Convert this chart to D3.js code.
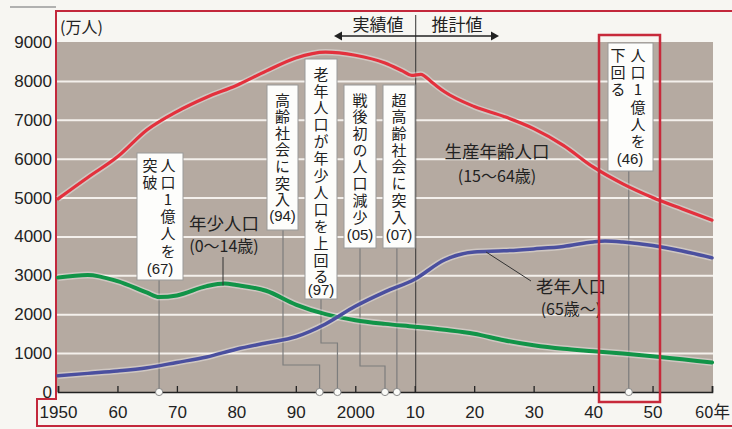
<!DOCTYPE html>
<html><head><meta charset="utf-8">
<script src="https://cdn.jsdelivr.net/npm/d3@7"></script>
<style>
html,body{margin:0;padding:0;background:#f7f6f2;}
svg{display:block;}
.vt{writing-mode:vertical-rl;text-orientation:upright;}
</style></head>
<body>
<svg id="c" width="732" height="429"></svg>
<script>
// ---------- data ----------
const redYears   = [1950,1955,1960,1965,1970,1975,1980,1985,1990,1995,2000,2005,2008,2009.5,2011,2013,2015,2020,2025,2030,2035,2040,2045,2050,2055,2060];
const redValues  = [4966,5517,6047,6744,7212,7581,7883,8251,8590,8740,8660,8460,8250,8140,8170,7950,7720,7341,7085,6773,6343,5787,5353,5001,4706,4418];
const greenYears  = [1950,1955,1960,1965,1967,1970,1975,1978,1980,1985,1990,1995,2000,2005,2010,2015,2020,2025,2030,2035,2040,2045,2050,2055,2060];
const greenValues = [2943,3010,2850,2553,2440,2482,2722,2790,2751,2603,2249,2001,1847,1752,1680,1600,1500,1330,1200,1110,1050,990,920,840,760];
const blueYears  = [1950,1955,1960,1965,1970,1975,1980,1985,1990,1995,2000,2005,2010,2015,2020,2025,2030,2035,2040,2042,2045,2050,2055,2060];
const blueValues = [416,479,540,624,760,900,1100,1260,1420,1750,2204,2576,2900,3395,3600,3630,3680,3741,3860,3880,3856,3768,3626,3450];
const yTicks = [0,1000,2000,3000,4000,5000,6000,7000,8000,9000];
const yTickLabels = ["0","1000","2000","3000","4000","5000","6000","7000","8000","9000"];
const xTicks = [1950,1960,1970,1980,1990,2000,2010,2020,2030,2040,2050,2060];
const xTickLabels = ["1950","60","70","80","90","2000","10","20","30","40","50","60年"];
const seriesNames = ["生産年齢人口","年少人口","老年人口"];
const seriesAges = ["(15〜64歳)","(0〜14歳)","(65歳〜)"];
const annYears = [1967,1994,1997,2005,2007,2046];
const annTexts = [["人口1億人を","突破"],["高齢社会に突入"],["老年人口が年少人口を上回る"],["戦後初の人口減少"],["超高齢社会に突入"],["人口1億人を","下回る"]];
const annLabels = ["(67)","(94)","(97)","(05)","(07)","(46)"];

// ---------- layout ----------
const svg = d3.select("#c");
const X0 = 58, X1 = 712, Y0 = 392, Y1 = 42;
const x = d3.scaleLinear().domain([1950,2060]).range([X0,X1]);
const y = d3.scaleLinear().domain([0,9000]).range([Y0,Y1]);
const JP = "'Noto Sans CJK JP','Noto Sans',sans-serif";
const NUM = "'Liberation Sans',Arial,sans-serif";

// frame lines
svg.append("line").attr("x1",10).attr("x2",56).attr("y1",7).attr("y2",7).attr("stroke","#9a9a9a").attr("stroke-width",1.5);
svg.append("path").attr("d","M732,11 H56 V399 H37 V426 H732").attr("fill","none").attr("stroke","#c3283c").attr("stroke-width",2);

// plot background
svg.append("rect").attr("x",X0-1).attr("y",Y1).attr("width",713-(X0-1)).attr("height",Y0-Y1).attr("fill","#b5aaa1");

// grid
const grid = svg.append("g").attr("transform",`translate(${X0-1},0)`)
  .call(d3.axisLeft(y).tickValues(yTicks.filter(v=>v>0 && v<9000)).tickSize(-(713-(X0-1))).tickFormat(""));
grid.select(".domain").remove();
grid.selectAll("line").attr("stroke","#f4f0ec").attr("stroke-width",2);

// y labels
const yAx = svg.append("g").attr("transform","translate(56,0)")
  .call(d3.axisLeft(y).tickValues(yTicks).tickSize(0).tickPadding(4).tickFormat((d,i)=>yTickLabels[i]));
yAx.select(".domain").remove();
yAx.selectAll("text").attr("font-family",NUM).attr("font-size",17).attr("fill","#222");

svg.append("text").attr("x",60).attr("y",33).text("(万人)").attr("font-family",JP).attr("font-size",16).attr("fill","#222");

// actual / projection header
svg.append("line").attr("x1",x(2010)+1).attr("x2",x(2010)+1).attr("y1",15).attr("y2",Y0).attr("stroke","#333").attr("stroke-width",1);
svg.append("line").attr("x1",340).attr("x2",493).attr("y1",36).attr("y2",36).attr("stroke","#222").attr("stroke-width",1.5);
svg.append("path").attr("d","M334,36 l8,-4.5 v9 z").attr("fill","#222");
svg.append("path").attr("d","M499,36 l-8,-4.5 v9 z").attr("fill","#222");
svg.append("text").attr("x",378).attr("y",31).attr("text-anchor","middle").text("実績値").attr("font-family",JP).attr("font-size",17).attr("fill","#222");
svg.append("text").attr("x",457).attr("y",31).attr("text-anchor","middle").text("推計値").attr("font-family",JP).attr("font-size",17).attr("fill","#222");

// lines
const lineGen = d3.line().x(d=>x(d[0])).y(d=>y(d[1])).curve(d3.curveMonotoneX);
const series = [
  {yrs:redYears, vals:redValues, color:"#e3313d", w:3.2},
  {yrs:greenYears, vals:greenValues, color:"#119448", w:4},
  {yrs:blueYears, vals:blueValues, color:"#4a4f9f", w:3.5}
];

// annotations (leaders first)
const boxes = [
  {x:137,y:153,w:46,h:127, cols:[168,150], start:165, step:17.2, ly:268, lx:160},
  {x:267,y:85,w:31,h:145, cols:[282.5], start:100, step:16.6, ly:215, lx:282.5},
  {x:305,y:59,w:32,h:240, cols:[321], start:74, step:16.9, ly:289, lx:321},
  {x:344,y:85,w:32,h:163, cols:[360], start:100, step:16.7, ly:234, lx:360},
  {x:383,y:85,w:32,h:163, cols:[399], start:100, step:16.7, ly:234, lx:399},
  {x:608,y:43,w:45,h:128, cols:[638,618], start:55, step:17.3, ly:158, lx:630}
];
const leaders = [
  [[x(1967),280],[x(1967),Y0]],
  [[283,230],[283,365],[x(1994),365],[x(1994),Y0]],
  [[321,299],[321,343],[x(1997),343],[x(1997),Y0]],
  [[360,248],[360,366],[x(2005),366],[x(2005),Y0]],
  [[x(2007),248],[x(2007),Y0]],
  [[x(2046),171],[x(2046),Y0]]
];
svg.append("g").selectAll("path").data(leaders).join("path")
  .attr("d",d=>d3.line()(d)).attr("fill","none").attr("stroke","#7d7d7d").attr("stroke-width",1.2);

// series lines
series.forEach(s=>{
  const pts = s.yrs.map((yr,i)=>[yr,s.vals[i]]);
  svg.append("path").datum(pts).attr("d",lineGen).attr("fill","none")
    .attr("stroke","rgba(255,255,255,0.35)").attr("stroke-width",s.w+3).attr("stroke-linejoin","round");
  svg.append("path").datum(pts).attr("d",lineGen).attr("fill","none")
    .attr("stroke",s.color).attr("stroke-width",s.w).attr("stroke-linejoin","round").attr("stroke-linecap","round");
});

// x axis
const xAx = svg.append("g").attr("transform",`translate(0,${Y0})`)
  .call(d3.axisBottom(x).tickValues(xTicks).tickSize(-6).tickPadding(14).tickFormat((d,i)=>xTickLabels[i]));
xAx.select(".domain").attr("stroke","#222").attr("stroke-width",1.6);
xAx.selectAll("line").attr("stroke","#222").attr("stroke-width",1.3);
xAx.selectAll("text").attr("font-family",NUM).attr("font-size",17).attr("fill","#222");
xAx.selectAll("text").filter((d,i)=>i===11).attr("font-family",JP).attr("font-size",16.5);

// circles at axis
svg.append("g").selectAll("circle").data(annYears).join("circle")
  .attr("cx",d=>x(d)).attr("cy",Y0).attr("r",3.6).attr("fill","#fbfbf8").attr("stroke","#8a8a8a").attr("stroke-width",1);

// boxes with vertical text
const FS = 15;
annYears.forEach((yr,i)=>{
  const b = boxes[i];
  const g = svg.append("g");
  g.append("rect").attr("x",b.x).attr("y",b.y).attr("width",b.w).attr("height",b.h)
    .attr("fill","#fdfdfb").attr("stroke","#9a9a9a").attr("stroke-width",1);
  annTexts[i].forEach((col,ci)=>{
    g.append("text").attr("class","vt")
      .attr("x",b.cols[ci]).attr("y",b.start-FS/2)
      .style("letter-spacing",(b.step-FS)+"px")
      .attr("font-family",JP).attr("font-size",FS).attr("fill","#222")
      .text(col);
  });
  g.append("text").attr("x",b.lx).attr("y",b.ly).attr("text-anchor","middle").attr("dominant-baseline","central")
    .attr("font-family",NUM).attr("font-size",15).attr("fill","#222").text(annLabels[i]);
});

// series labels
const labPos = [[497,150,175],[224,222,245],[571,285,308]];
seriesNames.forEach((n,i)=>{
  const p = labPos[i];
  svg.append("text").attr("x",p[0]).attr("y",p[1]).attr("text-anchor","middle").attr("dominant-baseline","central")
    .attr("font-family",JP).attr("font-size",17.5).attr("fill","#222").text(n);
  svg.append("text").attr("x",p[0]).attr("y",p[2]).attr("text-anchor","middle").attr("dominant-baseline","central")
    .attr("font-family",JP).attr("font-size",16).attr("fill","#222").text(seriesAges[i]);
});
// label leaders
svg.append("line").attr("x1",223).attr("x2",223).attr("y1",257).attr("y2",y(2790)+2).attr("stroke","#333").attr("stroke-width",1);
svg.append("line").attr("x1",531).attr("y1",281).attr("x2",x(2022)).attr("y2",y(3600)).attr("stroke","#333").attr("stroke-width",1);

// red highlight box
svg.append("rect").attr("x",599).attr("y",35).attr("width",61).attr("height",367)
  .attr("fill","none").attr("stroke","#c72a3b").attr("stroke-width",2.5);
</script>
</body></html>
